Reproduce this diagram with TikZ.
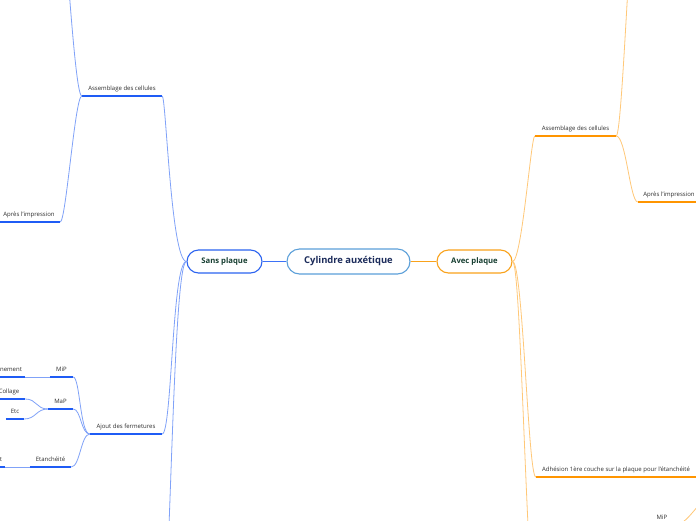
\documentclass[tikz,border=0pt]{standalone}
\usepackage{fontspec}
\setmainfont{Open Sans}
\usepackage{tikz}
\usetikzlibrary{positioning, calc}
\definecolor{blueline}{HTML}{1F5CF5}
\definecolor{blueconn}{HTML}{80A2F8}
\definecolor{bluelink}{HTML}{3D72F7}
\definecolor{bluebox}{HTML}{2B63F0}
\definecolor{rootbox}{HTML}{5B9FD9}
\definecolor{orangeline}{HTML}{FF9500}
\definecolor{orangeconn}{HTML}{FFC878}
\definecolor{orangebox}{HTML}{F9A21B}
\definecolor{nodetext}{HTML}{173F32}
\definecolor{roottext}{HTML}{1C2C5B}
\definecolor{leaftext}{HTML}{2E2E2E}
\newcommand{\leaffont}{\fontsize{6.0}{7}\selectfont}

\begin{document}
\begin{tikzpicture}[x=1pt, y=-1pt,
    rootnode/.style={draw=rootbox, fill=white, line width=1.1pt, rounded corners=12.5pt,
      minimum width=123pt, minimum height=25pt, inner sep=0pt, text=roottext,
      font=\fontsize{9.4}{11}\selectfont\bfseries},
    mainnode/.style={draw=#1, fill=white, line width=1.1pt, rounded corners=11.5pt,
      minimum width=75pt, minimum height=23pt, inner sep=0pt, text=nodetext,
      font=\fontsize{7.7}{9}\selectfont\bfseries},
    leaf/.style={font=\leaffont, text=leaftext, anchor=south, inner xsep=0pt,
      inner ysep=3.5pt, text depth=1.5pt,
      append after command={(\tikzlastnode.south west) edge[draw=#1, line width=1.6pt] (\tikzlastnode.south east)}},
    conn/.style={draw=#1, line width=0.8pt}]

  \path[use as bounding box, fill=white] (0,0) rectangle (696,520);

  % centre
  \node[rootnode] (root) at (348.5,261.5) {Cylindre auxétique};
  \node[mainnode=bluebox] (sans) at (224.5,261.5) {Sans plaque};
  \node[mainnode=orangebox] (avec) at (474.5,261.5) {Avec plaque};

  \draw[conn=bluelink, line width=1.1pt] (root.west) -- (sans.east);
  \draw[conn=orangebox, line width=1.1pt] (root.east) -- (avec.west);

  % Sans plaque
  \node[leaf=blueline, minimum width=80pt] (sansA) at (122,96) {Assemblage des cellules};
  \node[leaf=blueline, minimum width=62pt] (sansB) at (29,222) {Après l'impression};
  \node[leaf=blueline, minimum width=72pt] (sansC) at (126,434) {Ajout des fermetures};
  \node[leaf=blueline, minimum width=23pt] (mip) at (61.5,377) {MiP};
  \node[leaf=blueline, minimum width=28pt] (nement) at (11,377) {nement};
  \node[leaf=blueline, minimum width=25pt] (map) at (60.5,409) {MaP};
  \node[leaf=blueline, minimum width=32pt] (collage) at (9,399) {Collage};
  \node[leaf=blueline, minimum width=18pt] (etc) at (15,419) {Etc};
  \node[leaf=blueline, minimum width=41pt] (etanch) at (50.5,467) {Etanchéité};
  \node[leaf=blueline, minimum width=8pt] (tnode) at (1,467) {t};
  \coordinate (sansTop) at (55,-150);
  \coordinate (sansLow) at (160,650);

  \draw[conn=blueconn] (sans.west) .. controls (171,261) and (166,96) .. (sansA.south east);
  \draw[conn=blueconn] (sans.west) .. controls (172,261) and (172,434) .. (sansC.south east);
  \draw[conn=blueconn] (sans.west) .. controls (172,261) and (170,650) .. (sansLow);
  \draw[conn=blueconn] (sansA.south west) .. controls (73,96) and (62,-150) .. (sansTop);
  \draw[conn=blueconn] (sansA.south west) .. controls (75,96) and (66,222) .. (sansB.south east);
  \draw[conn=blueconn] (sansC.south west) .. controls (80,434) and (80,377) .. (mip.south east);
  \draw[conn=blueconn] (sansC.south west) .. controls (81,434) and (81,409) .. (map.south east);
  \draw[conn=blueconn] (sansC.south west) .. controls (81,434) and (80,467) .. (etanch.south east);
  \draw[conn=blueconn] (mip.south west) -- (nement.south east);
  \draw[conn=blueconn] (map.south west) .. controls (36,409) and (37,399) .. (collage.south east);
  \draw[conn=blueconn] (map.south west) .. controls (36,409) and (36,419) .. (etc.south east);
  \draw[conn=blueconn] (etanch.south west) -- (tnode.south east);

  % Avec plaque
  \node[leaf=orangeline, minimum width=81pt] (avecA) at (575.5,136) {Assemblage des cellules};
  \node[leaf=orangeline, minimum width=62pt] (avecB) at (669,202) {Après l'impression};
  \node[leaf=orangeline, minimum width=160pt] (avecC) at (616,477) {Adhésion 1ère couche sur la plaque pour l'étanchéité};
  \node[leaf=orangeline, minimum width=24pt] (mipR) at (662,525) {MiP};
  \coordinate (avecTop) at (640,-150);
  \coordinate (avecLow) at (540,650);
  \coordinate (mipRpar) at (720,485);

  \draw[conn=orangeconn] (avec.east) .. controls (522,261) and (531,136) .. (avecA.south west);
  \draw[conn=orangeconn] (avec.east) .. controls (523,261) and (528,477) .. (avecC.south west);
  \draw[conn=orangeconn] (avec.east) .. controls (522,261) and (527,650) .. (avecLow);
  \draw[conn=orangeconn] (avecA.south east) .. controls (623,136) and (632,-150) .. (avecTop);
  \draw[conn=orangeconn] (avecA.south east) .. controls (626,136) and (630,202) .. (avecB.south west);
  \draw[conn=orangeconn] (mipR.south east) .. controls (688,525) and (694,505) .. (mipRpar);
\end{tikzpicture}
\end{document}
